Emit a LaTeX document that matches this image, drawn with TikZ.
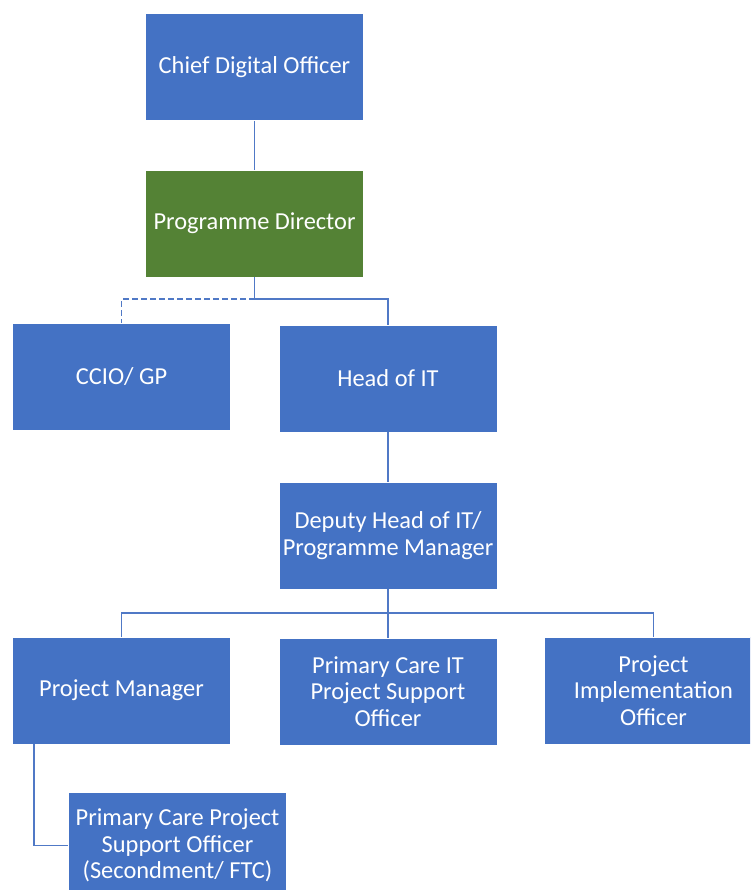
\documentclass[tikz,border=0pt]{standalone}
\usepackage{fontspec}
\setmainfont{Carlito}
\usepackage{tikz}

\definecolor{boxblue}{HTML}{4472C4}
\definecolor{boxgreen}{HTML}{548235}
\definecolor{lineblue}{HTML}{5079C6}

\begin{document}
\begin{tikzpicture}
			[x=1pt,y=-1pt,every node/.style={rectangle,fill=boxblue,draw=white,line width=.6pt,text=white,
				minimum width=218pt,minimum height=107pt,align=center,inner sep=2pt,
				font=\fontsize{24.4}{26.5}\selectfont},
			greenbox/.style={fill=boxgreen}, edge/.style={draw=lineblue,line width=1.3pt}]
			\useasboundingbox (0,0) rectangle (750,890);
			\begin{scope}
			\clip (0,0) rectangle (750,890);
			\node (cdo) at (254.5,67)  {Chief Digital Officer};
			\node[greenbox] (pd) at (254.5,223.5)  {Programme Director};
			\node (ccio) at (121.5,377)  {CCIO/ GP};
			\node (hit) at (388,378.5)  {Head of IT};
			\node (dep) at (388,535.5)  {Deputy Head of IT/\\Programme Manager};
			\node (pm) at (121.5,690.5)  {Project Manager};
			\node (pcit) at (388,691.5)  {Primary Care IT\\Project Support\\Officer};
			\node (pio) at (653.5,690.5)  {Project\\Implementation\\Officer};
			\node (pcps) at (177.5,845.5)  {Primary Care Project\\Support Officer\\(Secondment/ FTC)};
			\end{scope}
			
			\coordinate (pdj) at (254.5,299);
			\coordinate (depj) at (388,613);
			\coordinate (pmj) at (34,847);
			
			\draw[edge] (cdo) -- (pd);
			\draw[edge] (pd.south) -- (pdj) -| (hit.north);
			\draw[edge,dash pattern=on 6pt off 3pt] (pdj) -| (ccio.north);
			\draw[edge] (hit) -- (dep);
			\draw[edge] (dep.south) -- (pcit.north);
			\draw[edge] (depj) -| (pm.north);
			\draw[edge] (depj) -| (pio.north);
			\draw[edge] (pm.south -| pmj) |- (pcps.west);
			\end{tikzpicture}
\end{document}
